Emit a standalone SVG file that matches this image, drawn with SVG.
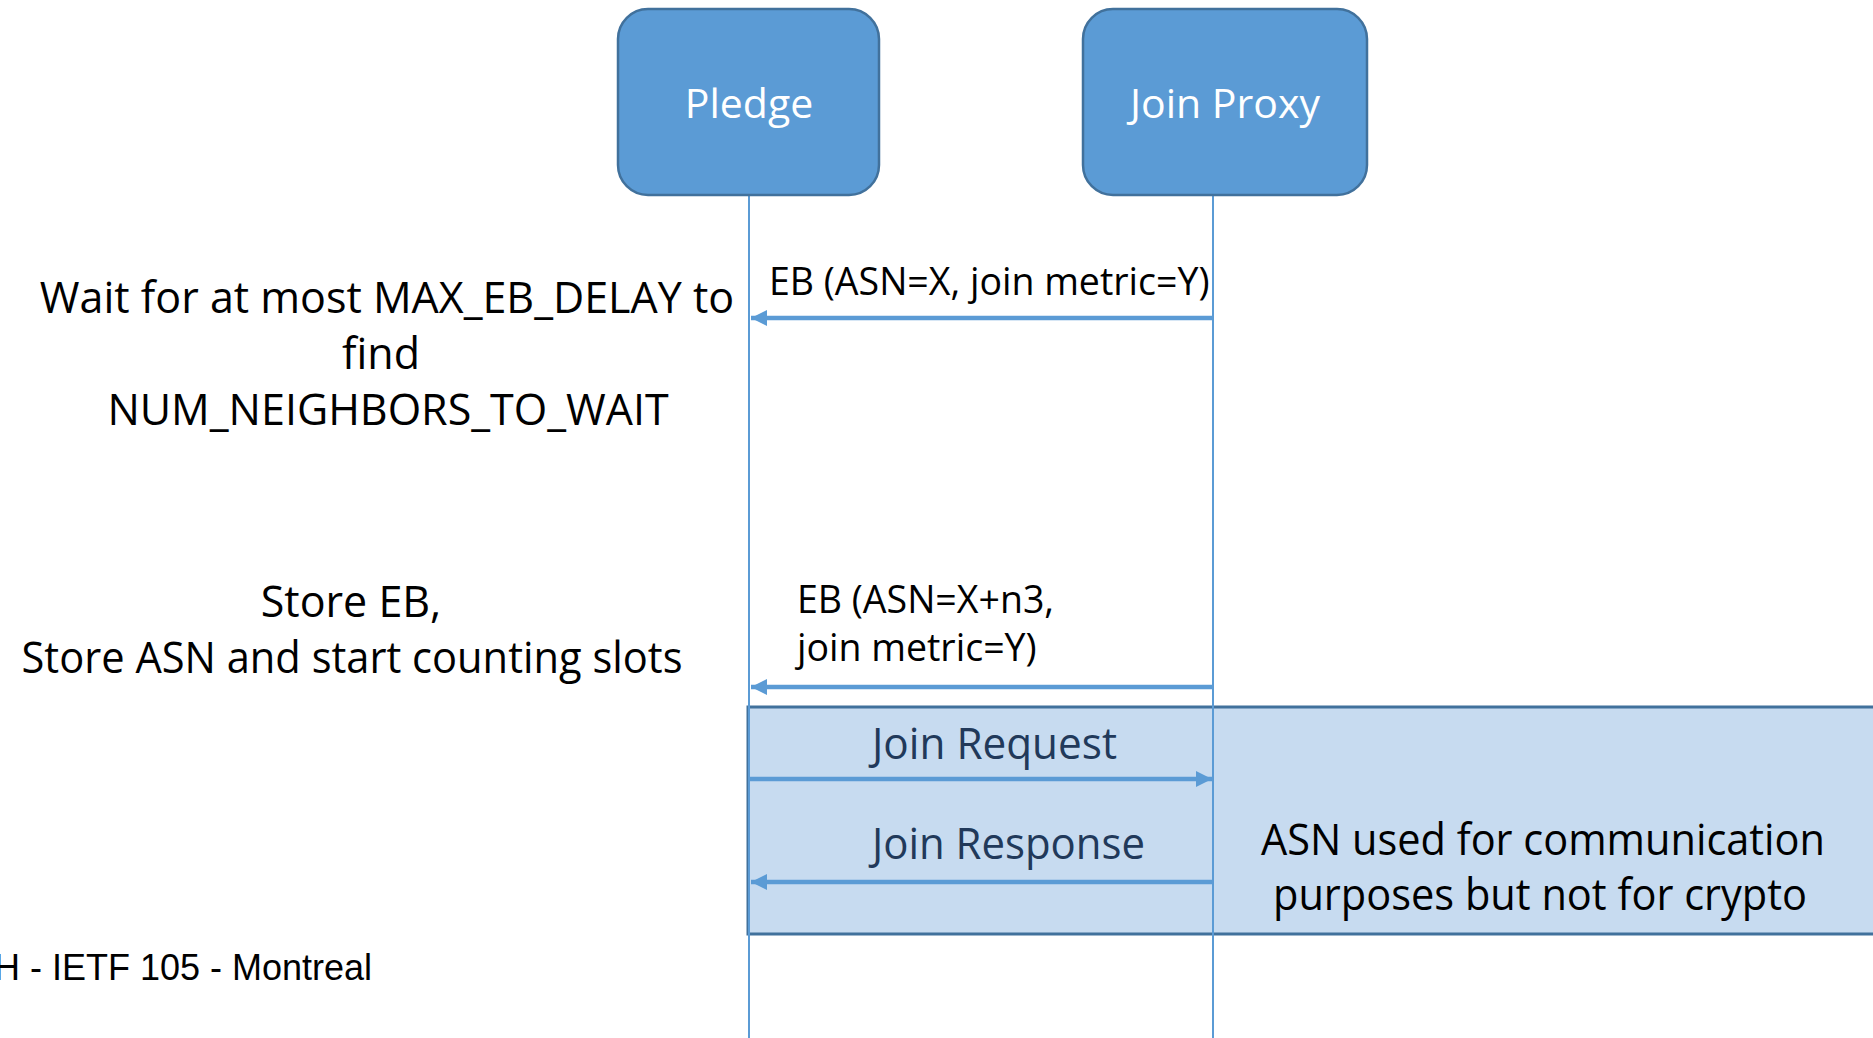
<svg xmlns="http://www.w3.org/2000/svg" width="1873" height="1038" viewBox="0 0 1873 1038">
  <style>
    .node { fill: #5B9BD5; stroke: #41719C; stroke-width: 2.5; }
    .nodetext { font-family: "Open Sans", "Liberation Sans", sans-serif; font-size: 41px; fill: #FFFFFF; text-anchor: middle; }
    .life { stroke: #5B9BD5; stroke-width: 2; fill: none; }
    .msg { stroke: #5B9BD5; stroke-width: 4.5; fill: none; }
    .lbl { font-family: "Open Sans", "Liberation Sans", sans-serif; fill: #000000; }
    .big { font-size: 43px; }
    .mid { font-size: 37.5px; }
    .dark { fill: #21395A; }
    .c { text-anchor: middle; }
    .band { fill: #C7DBF0; stroke: #41719C; stroke-width: 3; }
    .foot { font-family: "Liberation Sans", Arial, sans-serif; font-size: 36px; fill: #000000; text-anchor: end; }
  </style>
  <defs>
    <marker id="arrow" markerUnits="userSpaceOnUse" markerWidth="16" markerHeight="16" refX="15" refY="7.5" orient="auto" viewBox="0 0 15 15">
      <path d="M0,0 L15,7.5 L0,15 Z" fill="#5B9BD5"/>
    </marker>
  </defs>
  <rect width="1873" height="1038" fill="#FFFFFF"/>

  <g id="band">
    <rect class="band" x="748" y="707" width="1140" height="227"/>
  </g>

  <g id="connectors">
    <line class="life" x1="749" y1="195" x2="749" y2="1038"/>
    <line class="life" x1="1213" y1="195" x2="1213" y2="1038"/>
    <line class="msg" x1="1213" y1="318" x2="751" y2="318" marker-end="url(#arrow)"/>
    <line class="msg" x1="1213" y1="687" x2="751" y2="687" marker-end="url(#arrow)"/>
    <line class="msg" x1="750" y1="779" x2="1212" y2="779" marker-end="url(#arrow)"/>
    <line class="msg" x1="1213" y1="882" x2="751" y2="882" marker-end="url(#arrow)"/>
  </g>

  <g id="pledge">
    <rect class="node" x="618" y="9" width="261" height="186" rx="30" ry="30"/>
    <text class="nodetext" x="749" y="118">Pledge</text>
  </g>

  <g id="join-proxy">
    <rect class="node" x="1083" y="9" width="284" height="186" rx="30" ry="30"/>
    <text class="nodetext" x="1225" y="118">Join Proxy</text>
  </g>

  <g id="labels">
    <text class="lbl mid" x="769" y="295">EB (ASN=X, join metric=Y)</text>
    <text class="lbl mid" x="797" y="613">EB (ASN=X+n3,</text>
    <text class="lbl mid" x="797" y="661">join metric=Y)</text>
    <text class="lbl big dark" x="872" y="759" textLength="245" lengthAdjust="spacingAndGlyphs">Join Request</text>
    <text class="lbl big dark" x="872" y="859" textLength="273" lengthAdjust="spacingAndGlyphs">Join Response</text>
  </g>

  <g id="notes">
    <text class="lbl big c" x="387" y="313">Wait for at most MAX_EB_DELAY to</text>
    <text class="lbl big c" x="381" y="369">find</text>
    <text class="lbl big c" x="388" y="425">NUM_NEIGHBORS_TO_WAIT</text>
    <text class="lbl big c" x="351" y="617">Store EB,</text>
    <text class="lbl big c" x="352" y="673" textLength="661" lengthAdjust="spacingAndGlyphs">Store ASN and start counting slots</text>
    <text class="lbl big c" x="1543" y="855" textLength="564" lengthAdjust="spacingAndGlyphs">ASN used for communication</text>
    <text class="lbl big c" x="1540" y="910" textLength="534" lengthAdjust="spacingAndGlyphs">purposes but not for crypto</text>
  </g>

  <g id="footer">
    <text class="foot" x="372" y="980">H - IETF 105 - Montreal</text>
  </g>
</svg>
